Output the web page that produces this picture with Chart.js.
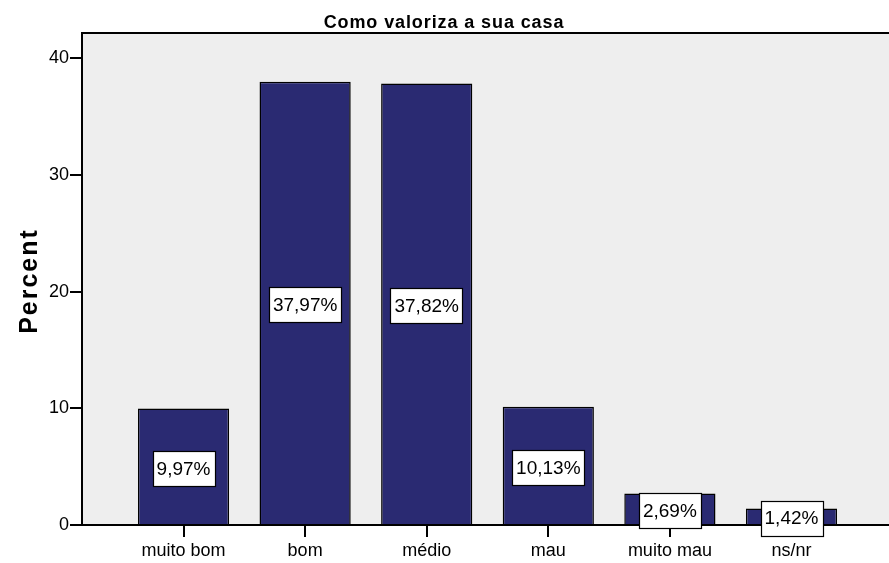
<!DOCTYPE html>
<html>
<head>
<meta charset="utf-8">
<script src="https://cdn.jsdelivr.net/npm/chart.js@4"></script>
<style>
  body { margin: 0; background: #fff; }
  canvas { display: block; }
</style>
</head>
<body>
<canvas id="grafico" width="889" height="563"></canvas>
<script>
// Datos
const categorias = ['muito bom', 'bom', 'médio', 'mau', 'muito mau', 'ns/nr'];
const porcentajes = [9.97, 37.97, 37.82, 10.13, 2.69, 1.42];
const marcasY = [0, 10, 20, 30, 40];
const titulo = 'Como valoriza a sua casa';
const tituloEje = 'Percent';

Chart.defaults.font.family = '"Liberation Sans", Arial, sans-serif';
Chart.defaults.color = '#000';

// fondo gris del area y borde superior
const fondoPlot = {
  id: 'fondoPlot',
  beforeDraw(chart) {
    const a = chart.chartArea;
    const ctx = chart.ctx;
    ctx.save();
    ctx.fillStyle = '#eeeeee';
    ctx.fillRect(a.left, a.top, a.right - a.left, a.bottom - a.top);
    ctx.restore();
  },
  afterDraw(chart) {
    const a = chart.chartArea;
    const ctx = chart.ctx;
    ctx.save();
    ctx.strokeStyle = '#000';
    ctx.lineWidth = 2;
    ctx.beginPath();
    ctx.moveTo(a.left - 1, a.top);
    ctx.lineTo(a.right, a.top);
    ctx.stroke();

    // titulo y titulo del eje (con espaciado de letras como SPSS)
    ctx.fillStyle = '#000';
    ctx.font = 'bold 18px "Liberation Sans", Arial, sans-serif';
    ctx.letterSpacing = '0.9px';
    ctx.textAlign = 'center';
    ctx.textBaseline = 'alphabetic';
    ctx.fillText(titulo, 444, 28);

    ctx.font = 'bold 25px "Liberation Sans", Arial, sans-serif';
    ctx.letterSpacing = '2px';
    ctx.translate(37, 281);
    ctx.rotate(-Math.PI / 2);
    ctx.fillText(tituloEje, 0, 0);
    ctx.restore();
  }
};

// etiquetas de porcentaje en cajas blancas
const etiquetas = {
  id: 'etiquetas',
  afterDatasetsDraw(chart) {
    const ctx = chart.ctx;
    const meta = chart.getDatasetMeta(0);
    ctx.save();
    ctx.font = '19px "Liberation Sans", Arial, sans-serif';
    ctx.textAlign = 'center';
    ctx.textBaseline = 'middle';
    meta.data.forEach((bar, i) => {
      const txt = porcentajes[i].toFixed(2).replace('.', ',') + '%';
      const w = ctx.measureText(txt).width + 8;
      const h = 35;
      const cy = (bar.y + bar.base) / 2 + 2;
      const x0 = Math.round(bar.x - w / 2) + 0.5;
      const y0 = Math.round(cy - h / 2) + 0.5;
      ctx.fillStyle = '#fff';
      ctx.fillRect(x0, y0, Math.round(w), h);
      ctx.strokeStyle = '#000';
      ctx.lineWidth = 1.2;
      ctx.strokeRect(x0, y0, Math.round(w), h);
      ctx.fillStyle = '#000';
      ctx.fillText(txt, bar.x, cy + 1);
    });
    ctx.restore();
  }
};

new Chart(document.getElementById('grafico'), {
  type: 'bar',
  data: {
    labels: categorias,
    datasets: [{
      label: 'Percent',
      data: porcentajes,
      backgroundColor: '#2a2a72',
      borderColor: '#000',
      borderWidth: 1.5,
      categoryPercentage: 1,
      barPercentage: 0.75
    }]
  },
  options: {
    responsive: false,
    animation: false,
    devicePixelRatio: 1,
    layout: { padding: { top: 33, left: 0, right: 0, bottom: 0 } },
    plugins: {
      legend: { display: false },
      tooltip: { enabled: false },
      title: { display: false }
    },
    scales: {
      x: {
        offset: true,
        grid: {
          display: true,
          offset: false,
          drawOnChartArea: false,
          drawTicks: true,
          tickLength: 12,
          color: '#000',
          lineWidth: 2
        },
        border: { display: true, color: '#000', width: 2 },
        ticks: { font: { size: 18 }, padding: 3, color: '#000', maxRotation: 0 },
        afterBuildTicks(scale) {
          // margen extra a los lados como en SPSS
          scale._startValue = -0.835;
          scale._valueRange = categorias.length + 0.637;
        },
        afterFit(scale) { scale.height = 38; }
      },
      y: {
        min: 0,
        max: 42.15,
        grid: {
          display: true,
          drawOnChartArea: false,
          drawTicks: true,
          tickLength: 12,
          color: '#000',
          lineWidth: 2
        },
        border: { display: true, color: '#000', width: 2 },
        ticks: { font: { size: 18 }, padding: 1, color: '#000', stepSize: 10, includeBounds: false },
        afterBuildTicks(scale) {
          scale.ticks = marcasY.map(v => ({ value: v }));
        },
        afterFit(scale) { scale.width = 82; }
      }
    }
  },
  plugins: [fondoPlot, etiquetas]
});
</script>
</body>
</html>
